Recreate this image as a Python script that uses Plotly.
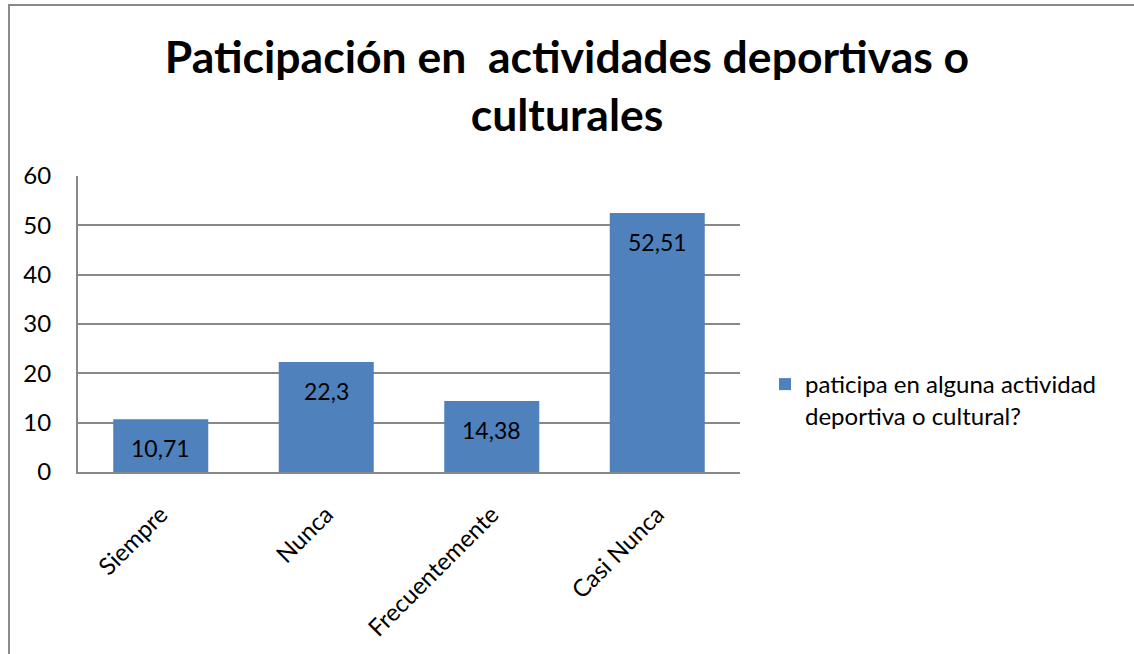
import plotly.graph_objects as go

categories = ["Siempre", "Nunca", "Frecuentemente", "Casi Nunca"]
values = [10.71, 22.3, 14.38, 52.51]
value_labels = ["10,71", "22,3", "14,38", "52,51"]
series_name = "paticipa en alguna actividad<br>deportiva o cultural?"
title_text = "Paticipación en  actividades deportivas o<br>culturales"
y_ticks = [0, 10, 20, 30, 40, 50, 60]

FONT = "Lato"
BAR_COLOR = "#4F81BD"
GRID = "#888888"

fig = go.Figure()
fig.add_trace(go.Bar(
    x=categories, y=values, name=series_name,
    marker=dict(color=BAR_COLOR, line=dict(width=0)),
    showlegend=True,
))

for c, v, t in zip(categories, values, value_labels):
    fig.add_annotation(x=c, y=v, xref="x", yref="y", text=t, showarrow=False,
                       yanchor="middle", yshift=-29,
                       font=dict(family=FONT, size=23, color="#000000"))

L, R, T, B = 78, 740, 176, 472
W, H = 1134, 654
pw, ph = R - L, B - T

fig.add_shape(type="rect", xref="paper", yref="paper",
              x0=(9 - L) / pw, x1=(1300 - L) / pw,
              y0=(B - 800) / ph, y1=(B - 5) / ph,
              line=dict(color="#8a8a8a", width=2), fillcolor="rgba(0,0,0,0)", layer="above")

fig.update_layout(
    width=W, height=H, autosize=False,
    margin=dict(l=L, r=W - R, t=T, b=H - B),
    paper_bgcolor="white", plot_bgcolor="white",
    bargap=0.426,
    title=dict(text=title_text, x=0.5, xref="container", xanchor="center",
               y=1 - 73 / H, yref="container", yanchor="middle",
               font=dict(family=FONT, size=44.5, color="#000000", weight="bold")),
    font=dict(family=FONT, size=24, color="#000000"),
    legend=dict(x=(765 - L) / pw, y=(B - 362) / ph, xanchor="left", yanchor="top",
                valign="top", font=dict(family=FONT, size=24, color="#000000"),
                bgcolor="rgba(0,0,0,0)", borderwidth=0),
    xaxis=dict(showline=True, linecolor=GRID, linewidth=2, showgrid=False,
               tickangle=-45, ticks="", ticklabelstandoff=17,
               tickfont=dict(family=FONT, size=24, color="#000000")),
    yaxis=dict(range=[0, 60], tickvals=y_ticks, showline=True, linecolor=GRID, linewidth=2,
               showgrid=True, gridcolor=GRID, gridwidth=1.5, zeroline=False,
               ticks="", ticklabelstandoff=20,
               tickfont=dict(family=FONT, size=24, color="#000000")),
)

fig.write_html("out.html")
